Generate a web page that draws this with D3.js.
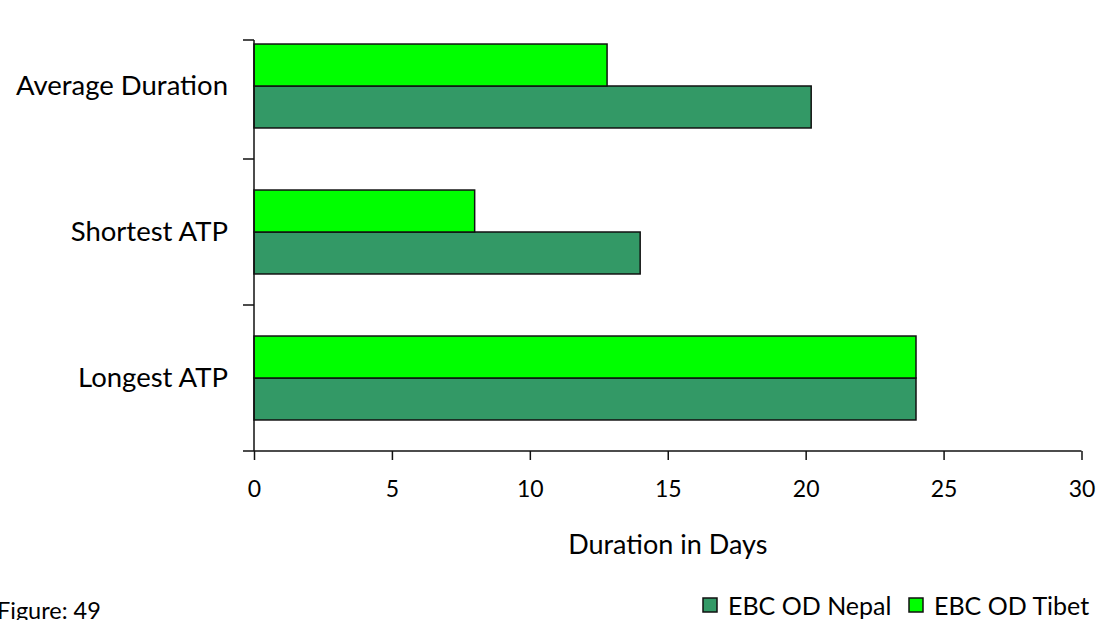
<!DOCTYPE html>
<html>
<head>
<meta charset="utf-8">
<script src="https://cdn.jsdelivr.net/npm/d3@7"></script>
<style>
  html, body { margin: 0; padding: 0; background: #fff; }
  svg { display: block; font-family: Lato, "Open Sans", sans-serif; }
</style>
</head>
<body>
<svg id="chart" width="1108" height="620"></svg>
<script>
// Duration of each trip type, in days
const categories = ["Average Duration", "Shortest ATP", "Longest ATP"];
const seriesNames = ["EBC OD Nepal", "EBC OD Tibet"];
const nepalValues = [20.2, 14, 24];
const tibetValues = [12.8, 8, 24];
const xTicks = [0, 5, 10, 15, 20, 25, 30];
const xTitle = "Duration in Days";
const figureLabel = "Figure: 49";

const colors = { "EBC OD Nepal": "#339966", "EBC OD Tibet": "#00ff00" };

const svg = d3.select("#chart");

const x = d3.scaleLinear().domain([0, 30]).range([254, 1081.5]);

// category bands (top to bottom), each holds two side-by-side bars
const y = d3.scaleBand()
  .domain(categories)
  .range([13, 451])
  .paddingInner(0.425)
  .paddingOuter(0.2125);

// Tibet drawn above Nepal inside each band
const ySub = d3.scaleBand()
  .domain(["EBC OD Tibet", "EBC OD Nepal"])
  .range([0, y.bandwidth()]);

const rows = categories.map((c, i) => ({
  cat: c,
  values: [
    { s: "EBC OD Nepal", v: nepalValues[i] },
    { s: "EBC OD Tibet", v: tibetValues[i] }
  ]
}));

const groups = svg.append("g").selectAll("g")
  .data(rows).join("g")
  .attr("transform", d => `translate(0,${y(d.cat)})`);

groups.selectAll("rect")
  .data(d => d.values).join("rect")
  .attr("x", x(0))
  .attr("y", d => ySub(d.s))
  .attr("width", d => x(d.v) - x(0))
  .attr("height", ySub.bandwidth())
  .attr("fill", d => colors[d.s])
  .attr("stroke", "#111")
  .attr("stroke-width", 1.5);

// X axis
const xAxis = svg.append("g")
  .attr("transform", "translate(0,451)")
  .call(d3.axisBottom(x).tickValues(xTicks).tickSize(9).tickSizeOuter(0).tickPadding(0));
xAxis.select(".domain").remove();
xAxis.append("line")
  .attr("x1", 243).attr("x2", x(30))
  .attr("stroke", "#111").attr("stroke-width", 1.5);
xAxis.selectAll(".tick line").attr("stroke", "#111").attr("stroke-width", 1.5);
xAxis.selectAll(".tick text")
  .attr("fill", "#000")
  .attr("y", 37)
  .attr("dy", null)
  .attr("dominant-baseline", "central")
  .style("font-size", "23px")
  .style("font-family", "Lato, sans-serif");

// Y axis: line and ticks on the category boundaries
const yAxis = svg.append("g");
const axisTop = 40;
yAxis.append("line")
  .attr("x1", x(0)).attr("x2", x(0))
  .attr("y1", axisTop).attr("y2", 451)
  .attr("stroke", "#111").attr("stroke-width", 1.5);
const boundaries = [axisTop].concat(
  categories.slice(1).map(c => y(c) - y.step() * y.paddingInner() / 2)
);
yAxis.selectAll("line.tick")
  .data(boundaries).join("line")
  .attr("class", "tick")
  .attr("x1", 243).attr("x2", x(0))
  .attr("y1", d => d).attr("y2", d => d)
  .attr("stroke", "#111").attr("stroke-width", 1.5);

yAxis.selectAll("text")
  .data(categories).join("text")
  .attr("x", 228)
  .attr("y", d => y(d) + y.bandwidth() / 2 - 2)
  .attr("text-anchor", "end")
  .attr("dominant-baseline", "central")
  .style("font-size", "27.5px")
  .text(d => d);

// Axis title
svg.append("text")
  .attr("x", (x(0) + x(30)) / 2)
  .attr("y", 543)
  .attr("text-anchor", "middle")
  .attr("dominant-baseline", "central")
  .style("font-size", "27px")
  .text(xTitle);

// Legend
const legend = svg.append("g").attr("transform", "translate(703,605)");
const legendX = [0, 206];
const items = legend.selectAll("g")
  .data(seriesNames).join("g")
  .attr("transform", (d, i) => `translate(${legendX[i]},0)`);
items.append("rect")
  .attr("x", 0).attr("y", -7)
  .attr("width", 14).attr("height", 14)
  .attr("fill", d => colors[d])
  .attr("stroke", "#111").attr("stroke-width", 1.5);
items.append("text")
  .attr("x", 25).attr("y", 0)
  .attr("dominant-baseline", "central")
  .style("font-size", "25px")
  .text(d => d);

// Figure caption
svg.append("text")
  .attr("x", -3).attr("y", 619)
  .style("font-size", "23.5px")
  .text(figureLabel);
</script>
</body>
</html>
